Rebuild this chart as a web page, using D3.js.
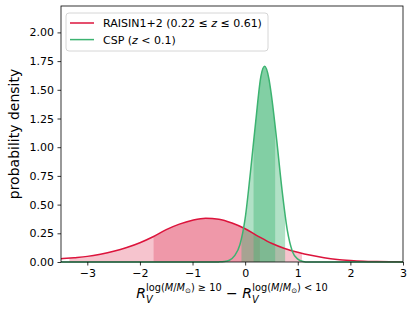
<!DOCTYPE html>
<html>
<head>
<meta charset="utf-8">
<script src="https://cdn.jsdelivr.net/npm/d3@7"></script>
<style>
  body { margin: 0; background: #fff; }
  svg { font-family: "DejaVu Sans", sans-serif; }
</style>
</head>
<body>
<div id="chart"></div>
<script>

// RAISIN1+2 posterior
const raisinX = [-3.5, -3.25, -3.0, -2.75, -2.5, -2.25, -2.0, -1.75, -1.5, -1.25, -1.0, -0.75, -0.5, -0.25, 0.0, 0.25, 0.5, 0.75, 1.0, 1.25, 1.5, 1.75, 2.0, 2.25, 2.5, 2.75, 3.0];
const raisinY = [0.029, 0.038, 0.049, 0.068, 0.093, 0.126, 0.168, 0.220, 0.282, 0.330, 0.364, 0.382, 0.373, 0.340, 0.290, 0.224, 0.163, 0.118, 0.085, 0.058, 0.037, 0.022, 0.013, 0.007, 0.004, 0.002, 0.001];

// CSP posterior
const cspX = [-3.5, -0.6, -0.5, -0.4, -0.3, -0.2, -0.1, 0.0, 0.1, 0.2, 0.3, 0.37, 0.45, 0.5, 0.6, 0.7, 0.8, 0.9, 1.0, 1.1, 1.2, 3.0];
const cspY = [0, 0, 0.001, 0.004, 0.015, 0.055, 0.15, 0.38, 0.78, 1.22, 1.62, 1.705, 1.60, 1.45, 1.06, 0.63, 0.28, 0.09, 0.025, 0.005, 0, 0];

// shaded intervals [outer, inner]
const raisinBands = [[-3.34, 1.08], [-1.74, 0.28]];
const cspBands = [[-0.07, 0.76], [0.16, 0.57]];

const xTicks = [-3, -2, -1, 0, 1, 2, 3];
const yTicks = [0, 0.25, 0.5, 0.75, 1.0, 1.25, 1.5, 1.75, 2.0];
const xDomain = [-3.5, 3];
const yDomain = [0, 2.23];

class Density {

  constructor(id){
    this.container = id;

    this.margin = {
      top:     6,
      right:   12,
      bottom:  50,
      left:    61
    };

    this.width = 415 - this.margin.left - this.margin.right;
    this.height = 312 - this.margin.top - this.margin.bottom;

    this.red = "#dc143c";
    this.green = "#3cb371";
  }

  init(){
    this.svg = d3.select('#' + this.container).append("svg")
      .attr("width", this.width + this.margin.left + this.margin.right)
      .attr("height", this.height + this.margin.top + this.margin.bottom)
      .append("g")
      .attr("transform", "translate(" + this.margin.left + "," + this.margin.top + ")");

    this.x = d3.scaleLinear().domain(xDomain).range([0, this.width]);
    this.y = d3.scaleLinear().domain(yDomain).range([this.height, 0]);

    this.defs = this.svg.append("defs");
  }

  coords(xs, ys){
    return xs.map((d, i) => ({x: d, y: ys[i]}));
  }

  bands(name, dta, bands, color, opacity){
    const self = this;
    const area = d3.area()
      .curve(d3.curveMonotoneX)
      .x(d => self.x(d.x))
      .y0(this.y(0))
      .y1(d => self.y(d.y));

    bands.forEach((b, idx) => {
      const id = "clip-" + name + idx;
      this.defs.append("clipPath").attr("id", id)
        .append("rect")
        .attr("x", this.x(b[0]))
        .attr("width", this.x(b[1]) - this.x(b[0]))
        .attr("y", 0)
        .attr("height", this.height);

      this.svg.append("path")
        .datum(dta)
        .attr("clip-path", "url(#" + id + ")")
        .attr("fill", color)
        .attr("fill-opacity", opacity)
        .attr("d", area);
    });
  }

  line(dta, color){
    const self = this;
    const line = d3.line()
      .curve(d3.curveMonotoneX)
      .x(d => self.x(d.x))
      .y(d => self.y(d.y));

    this.svg.append("path")
      .datum(dta)
      .attr("fill", "none")
      .attr("stroke", color)
      .attr("stroke-width", 1.5)
      .attr("d", line);
  }

  axes(){
    const xAxis = this.svg.append("g")
      .attr("transform", "translate(0," + this.height + ")")
      .call(d3.axisBottom(this.x).tickValues(xTicks).tickSize(3.5).tickPadding(3.5)
        .tickFormat(d => d3.format("d")(d).replace("-", "\u2212")));

    const yAxis = this.svg.append("g")
      .call(d3.axisLeft(this.y).tickValues(yTicks).tickSize(3.5).tickPadding(3.5)
        .tickFormat(d3.format(".2f")));

    [xAxis, yAxis].forEach(a => {
      a.select(".domain").remove();
      a.selectAll("text").attr("font-size", 11).attr("fill", "#000")
        .attr("font-family", "DejaVu Sans, sans-serif");
      a.selectAll("line").attr("stroke", "#000").attr("stroke-width", 0.8);
    });

    // frame
    this.svg.append("rect")
      .attr("x", 0).attr("y", 0)
      .attr("width", this.width).attr("height", this.height)
      .attr("fill", "none")
      .attr("stroke", "#000")
      .attr("stroke-width", 0.8);

    this.svg.append("text")
      .attr("transform", "translate(" + (14 - this.margin.left) + "," + (this.height / 2) + ") rotate(-90)")
      .attr("text-anchor", "middle")
      .attr("dominant-baseline", "central")
      .attr("font-size", 14)
      .text("probability density");

    // R_V^{log(M/Msun) >= 10} - R_V^{log(M/Msun) < 10}
    const lab = this.svg.append("text")
      .attr("x", this.width / 2)
      .attr("y", this.height + 36)
      .attr("text-anchor", "middle")
      .attr("font-size", 14);

    const term = (rel, first) => {
      if(!first) lab.append("tspan").attr("font-size", 14).attr("dy", 7).text(" \u2212 ");
      lab.append("tspan").attr("font-style", "italic").text("R");
      lab.append("tspan").attr("font-size", 9.8).attr("font-style", "italic").attr("dy", 5).text("V");
      lab.append("tspan").attr("font-size", 9.8).attr("dx", -6.5).attr("dy", -12).text("log(");
      lab.append("tspan").attr("font-size", 9.8).attr("font-style", "italic").text("M");
      lab.append("tspan").attr("font-size", 9.8).text("/");
      lab.append("tspan").attr("font-size", 9.8).attr("font-style", "italic").text("M");
      lab.append("tspan").attr("font-size", 7).attr("dy", 2).text("\u2299");
      lab.append("tspan").attr("font-size", 9.8).attr("dy", -2).text(")" + rel + "10");
    };
    term(" \u2265 ", true);
    term(" < ", false);
  }

  legend(){
    const g = this.svg.append("g").attr("transform", "translate(5,7)");

    g.append("rect")
      .attr("width", 202).attr("height", 38)
      .attr("rx", 3)
      .attr("fill", "#fff").attr("fill-opacity", 0.8)
      .attr("stroke", "#ccc").attr("stroke-width", 0.8);

    const items = [
      {color: this.red, parts: [["RAISIN1+2 (0.22 \u2264 ", false], ["z", true], [" \u2264 0.61)", false]]},
      {color: this.green, parts: [["CSP (", false], ["z", true], [" < 0.1)", false]]}
    ];

    items.forEach((it, idx) => {
      const yy = 10 + idx * 16.6;
      g.append("line")
        .attr("x1", 4).attr("x2", 28)
        .attr("y1", yy).attr("y2", yy)
        .attr("stroke", it.color).attr("stroke-width", 1.5);
      const t = g.append("text")
        .attr("x", 37).attr("y", yy + 4)
        .attr("font-size", 11);
      it.parts.forEach(p => {
        t.append("tspan").attr("font-style", p[1] ? "italic" : "normal").text(p[0]);
      });
    });
  }
}

const chart = new Density("chart");
chart.init();

const raisin = chart.coords(raisinX, raisinY);
const csp = chart.coords(cspX, cspY);

chart.bands("raisin", raisin, raisinBands, chart.red, 0.25);
chart.bands("csp", csp, cspBands, chart.green, 0.4);
chart.line(raisin, chart.red);
chart.line(csp, chart.green);
chart.axes();
chart.legend();

</script>
</body>
</html>
